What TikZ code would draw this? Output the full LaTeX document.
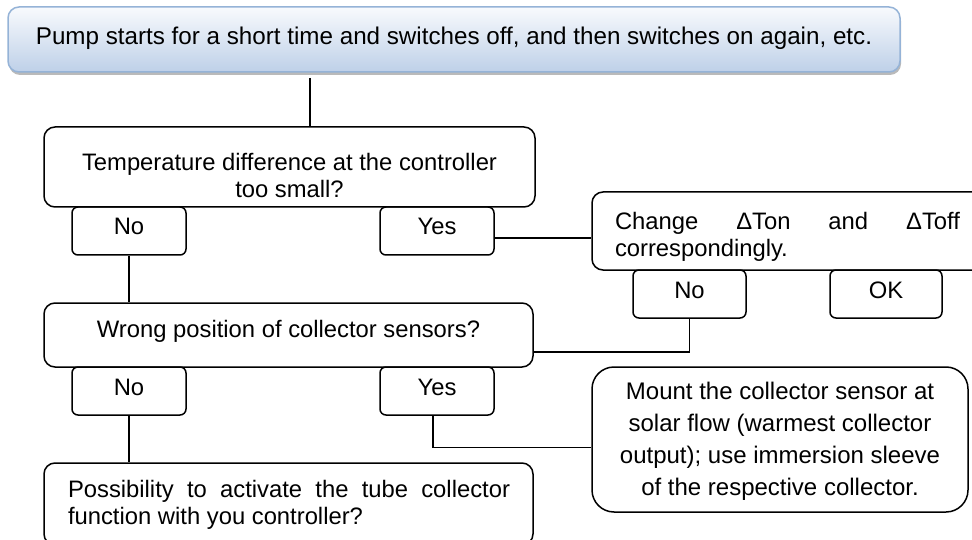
\documentclass[tikz,border=0pt]{standalone}
\usepackage{fontspec}
\setmainfont{Liberation Sans}
\usetikzlibrary{shadows}
\definecolor{topfillA}{RGB}{248,250,253}
\definecolor{topfillB}{RGB}{190,208,232}
\definecolor{topedge}{RGB}{149,179,215}
\tikzset{
  bigbox/.style={draw=black, line width=1.5pt, rounded corners=11pt, inner sep=0pt},
  smallbox/.style={draw=black, line width=1.5pt, rounded corners=6pt, inner sep=0pt},
  txt/.style={inner sep=0pt, font=\fontsize{23.8}{27}\selectfont},
  conn/.style={draw=black, line width=1.8pt},
}
\begin{document}
\begin{tikzpicture}[x=1pt,y=-1pt]
\useasboundingbox (0,0) rectangle (972,540);
% top box
\node[draw=topedge, line width=1.5pt, rounded corners=11pt, inner sep=0pt,
      top color=topfillA, bottom color=topfillB,
      drop shadow={shadow xshift=1pt, shadow yshift=-3pt, fill=black!45, opacity=0.6},
      minimum width=892pt, minimum height=65pt] (top) at (454,39.5) {};
\node[txt, font=\fontsize{24.2}{27}\selectfont] (topT) at (454,38) {Pump starts for a short time and switches off, and then switches on again, etc.};
% temperature
\node[bigbox, minimum width=491pt, minimum height=80pt] (temp) at (289.5,167) {};
\node[txt, align=center] (tempT) at (289.5,175) {Temperature difference at the controller\\too small?};
\node[smallbox, minimum width=114pt, minimum height=48pt] (no1) at (129,231) {};
\node[txt] (no1T) at (129,226) {No};
\node[smallbox, minimum width=114pt, minimum height=48pt] (yes1) at (437,231) {};
\node[txt] (yes1T) at (437,226) {Yes};
% change
\node[bigbox, minimum width=393pt, minimum height=78pt] (change) at (788.5,231) {};
\node[txt, text width=345pt, align=justify] (changeT) at (787.5,237) {Change ΔTon and ΔToff\linebreak correspondingly.};
\node[smallbox, minimum width=113pt, minimum height=48pt] (chno) at (689.5,294) {};
\node[txt] (chnoT) at (689.5,290) {No};
\node[smallbox, minimum width=112pt, minimum height=48pt] (ok) at (886,294) {};
\node[txt] (okT) at (886,290) {OK};
% wrong position
\node[bigbox, minimum width=489pt, minimum height=64pt] (wrong) at (288.5,335) {};
\node[txt] (wrongT) at (288.5,331) {Wrong position of collector sensors?};
\node[smallbox, minimum width=114pt, minimum height=48pt] (no2) at (129,391) {};
\node[txt] (no2T) at (129,387) {No};
\node[smallbox, minimum width=114pt, minimum height=48pt] (yes2) at (437,391) {};
\node[txt] (yes2T) at (437,387) {Yes};
% mount
\node[draw=black, line width=1.5pt, rounded corners=22pt, inner sep=0pt,
      minimum width=376pt, minimum height=145pt] (mount) at (780,439.5) {};
\node[txt, align=center, font=\fontsize{24}{32}\selectfont] (mountT) at (780,441) {Mount the collector sensor at\\solar flow (warmest collector\\output); use immersion sleeve\\of the respective collector.};
% possibility
\node[bigbox, minimum width=489pt, minimum height=82pt] (poss) at (288.5,504) {};
\node[txt, text width=442pt, align=justify] (possT) at (289,505) {Possibility to activate the tube collector\linebreak function with you controller?};
% connectors
\coordinate (c1) at (310,78);
\draw[conn] (c1) -- (c1 |- temp.north);
\draw[conn] (no1.south) -- (no1.south |- wrong.north);
\draw[conn] ([yshift=-7pt]yes1.east) -- ([yshift=-7pt]yes1.east -| change.west);
\draw[conn] (chno.south) |- ([yshift=-17pt]wrong.east);
\draw[conn] (no2.south) -- (no2.south |- poss.north);
\draw[conn] ([xshift=-4pt]yes2.south) |- ([yshift=-8pt]mount.west);
\end{tikzpicture}
\end{document}
